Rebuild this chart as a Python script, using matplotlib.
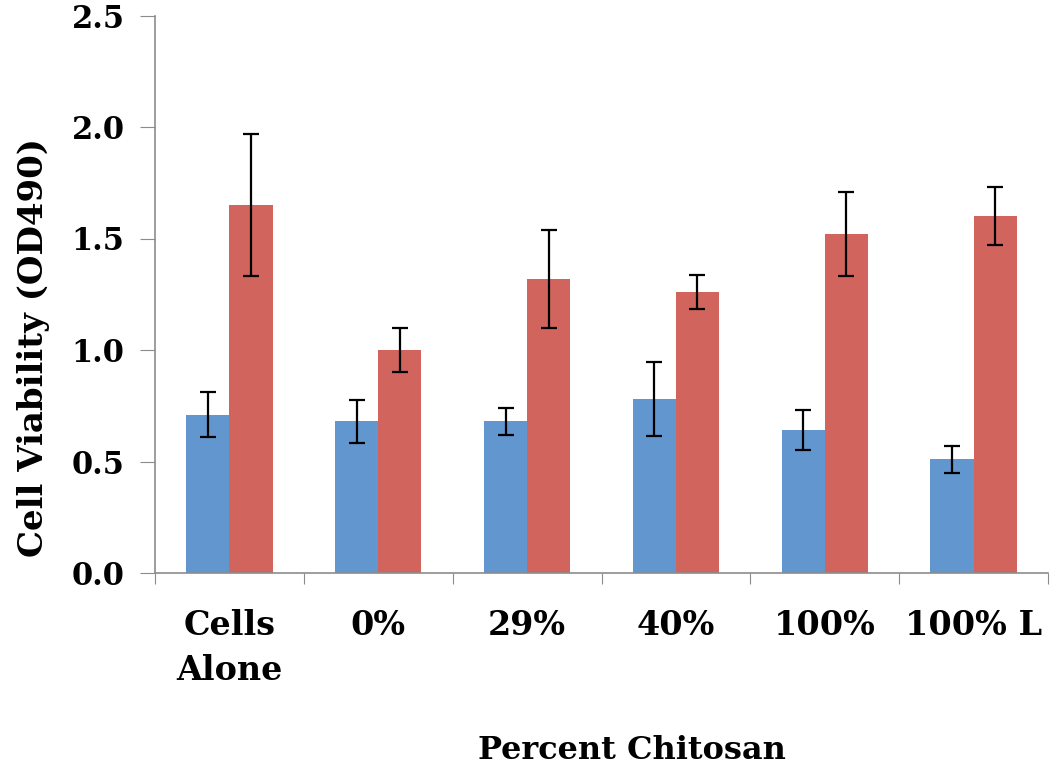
import numpy as np
import matplotlib.pyplot as plt

# data
categories = ['Cells\nAlone', '0%', '29%', '40%', '100%', '100% L']
blue_vals = [0.71, 0.68, 0.68, 0.78, 0.64, 0.51]
blue_err = [0.10, 0.095, 0.06, 0.165, 0.09, 0.06]
red_vals = [1.65, 1.00, 1.32, 1.26, 1.52, 1.60]
red_err = [0.32, 0.10, 0.22, 0.075, 0.19, 0.13]
yticks = [0.0, 0.5, 1.0, 1.5, 2.0, 2.5]

blue = '#6196ce'
red = '#d1655e'
grey = '#8c8c8c'
font = 'DejaVu Serif'

fig = plt.figure(figsize=(10.5, 7.67), dpi=100)
ax = fig.add_axes([155 / 1050, 194 / 767, 893 / 1050, 557.5 / 767])

x = np.arange(len(categories)) + 0.5
w = 0.29
ebar = dict(ecolor='black', elinewidth=1.6, capsize=5.5, capthick=1.6)
ax.bar(x - w / 2, blue_vals, w, color=blue, yerr=blue_err, error_kw=ebar, zorder=2)
ax.bar(x + w / 2, red_vals, w, color=red, yerr=red_err, error_kw=ebar, zorder=2)

ax.set_xlim(0, len(categories))
ax.set_ylim(0, 2.5)

# boundaries get the tick marks, centres get the labels
ax.set_xticks(np.arange(len(categories) + 1))
ax.set_xticklabels([])
ax.set_xticks(x, minor=True)
ax.set_xticklabels(categories, minor=True, fontsize=24, fontweight='bold',
                   family=font, linespacing=1.45)
ax.tick_params(axis='x', which='major', length=8, color=grey, direction='out')
ax.tick_params(axis='x', which='minor', length=0, pad=26)

ax.set_yticks(yticks)
ax.set_yticklabels(['%.1f' % t for t in yticks], fontsize=22, fontweight='bold', family=font)
ax.tick_params(axis='y', length=11, color=grey, direction='out', pad=11)

for s in ['top', 'right']:
    ax.spines[s].set_visible(False)
for s in ['left', 'bottom']:
    ax.spines[s].set_color(grey)
    ax.spines[s].set_linewidth(1.2)

ax.set_xlabel('Percent Chitosan', fontsize=23, fontweight='bold', family=font)
ax.xaxis.set_label_coords(0.534, -0.29)
ax.set_ylabel('Cell Viability (OD490)', fontsize=24.5, fontweight='bold', family=font)
ax.yaxis.set_label_coords(-0.118, 0.405)

fig.savefig('out.png', dpi=100)
